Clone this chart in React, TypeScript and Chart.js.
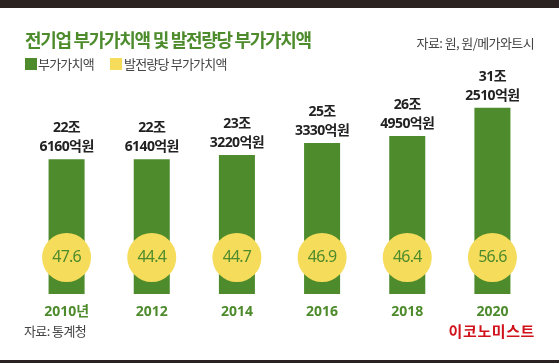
import React, { useEffect, useRef } from "react";
import { Chart, registerables } from "chart.js";

Chart.register(...registerables);

const years = ["2010년", "2012", "2014", "2016", "2018", "2020"];
const valueAddedTrillion = [22.616, 22.614, 23.322, 25.333, 26.495, 31.251];
const labelTrillion = ["22조", "22조", "23조", "25조", "26조", "31조"];
const labelHundredMillion = ["6160억원", "6140억원", "3220억원", "3330억원", "4950억원", "2510억원"];
const perMWh = [47.6, 44.4, 44.7, 46.9, 46.4, 56.6];

const GREEN = "#4d8b2c";
const YELLOW = "#f6dc5b";
const FONT = '"Noto Sans", "Noto Sans CJK KR", sans-serif';
const KFONT = '"Noto Sans CJK KR", sans-serif';

function setFont(ctx: CanvasRenderingContext2D, f: string, spacing: number) {
  ctx.font = f;
  (ctx as any).letterSpacing = spacing + "px";
}

const decorPlugin = {
  id: "decor",
  beforeDraw(chart: any) {
    const ctx: CanvasRenderingContext2D = chart.ctx;
    ctx.save();
    ctx.fillStyle = "#ffffff";
    ctx.fillRect(0, 0, chart.width, chart.height);
    ctx.fillStyle = "#2b2321";
    ctx.fillRect(0, 0, chart.width, 8);
    ctx.fillRect(0, 360, chart.width, 3);

    ctx.textBaseline = "middle";
    // title
    setFont(ctx, `bold 18px ${KFONT}`, -1.3);
    ctx.fillStyle = GREEN;
    ctx.textAlign = "left";
    ctx.fillText("전기업 부가가치액 및 발전량당 부가가치액", 25, 40);
    // unit note
    setFont(ctx, `13px ${KFONT}`, -0.6);
    ctx.fillStyle = "#444444";
    ctx.textAlign = "right";
    ctx.fillText("자료: 원, 원/메가와트시", 534, 43.5);
    // legend
    ctx.fillStyle = GREEN;
    ctx.fillRect(25, 58, 12, 12);
    ctx.fillStyle = YELLOW;
    ctx.fillRect(110, 58, 12, 12);
    setFont(ctx, `13px ${KFONT}`, -0.8);
    ctx.fillStyle = "#444444";
    ctx.textAlign = "left";
    ctx.fillText("부가가치액", 38, 64.5);
    ctx.fillText("발전량당 부가가치액", 124, 64.5);
    // source
    setFont(ctx, `13px ${KFONT}`, -0.6);
    ctx.fillText("자료: 통계청", 24, 331.5);
    // logo
    setFont(ctx, `bold 15px ${KFONT}`, 0.6);
    ctx.fillStyle = "#d0121b";
    ctx.textAlign = "right";
    ctx.fillText("이코노미스트", 535, 331.5);
    ctx.restore();
  },
  afterDatasetsDraw(chart: any) {
    const ctx: CanvasRenderingContext2D = chart.ctx;
    const meta = chart.getDatasetMeta(0);
    const bottom = chart.chartArea.bottom;
    ctx.save();
    ctx.textAlign = "center";
    ctx.textBaseline = "middle";
    meta.data.forEach((bar: any, i: number) => {
      setFont(ctx, `bold 14px ${FONT}`, -0.6);
      ctx.fillStyle = "#222222";
      ctx.fillText(labelTrillion[i], bar.x, bar.y - 31);
      ctx.fillText(labelHundredMillion[i], bar.x, bar.y - 12);
      ctx.beginPath();
      ctx.arc(bar.x, bottom - 36.5, 24.5, 0, Math.PI * 2);
      ctx.fillStyle = YELLOW;
      ctx.fill();
      setFont(ctx, `16px ${FONT}`, -0.8);
      ctx.fillStyle = GREEN;
      ctx.fillText(perMWh[i].toFixed(1), bar.x, bottom - 36.5);
    });
    ctx.restore();
  },
};

export default function App() {
  const ref = useRef<HTMLCanvasElement | null>(null);
  useEffect(() => {
    if (!ref.current) return;
    const chart = new Chart(ref.current, {
      type: "bar",
      data: {
        labels: years,
        datasets: [
          {
            label: "부가가치액",
            data: valueAddedTrillion,
            backgroundColor: GREEN,
            categoryPercentage: 1,
            barPercentage: 0.423,
          },
        ],
      },
      options: {
        responsive: false,
        animation: false,
        devicePixelRatio: 1,
        layout: { padding: { left: 24, right: 24, top: 85.4, bottom: 29 } },
        plugins: { legend: { display: false }, tooltip: { enabled: false } },
        scales: {
          y: { display: false, min: 0, max: 35 },
          x: {
            afterFit(scale: any) {
              scale.height = 40;
            },
            grid: { display: false, drawTicks: false },
            border: { display: false },
            ticks: {
              padding: 10,
              color: GREEN,
              font: { family: FONT, size: 14, weight: "bold" },
              maxRotation: 0,
              autoSkip: false,
            },
          },
        },
      },
      plugins: [decorPlugin],
    });
    return () => chart.destroy();
  }, []);
  return (
    <div style={{ position: "fixed", left: 0, top: 0, width: 559, height: 363 }}>
      <canvas ref={ref} width={559} height={363} />
    </div>
  );
}
